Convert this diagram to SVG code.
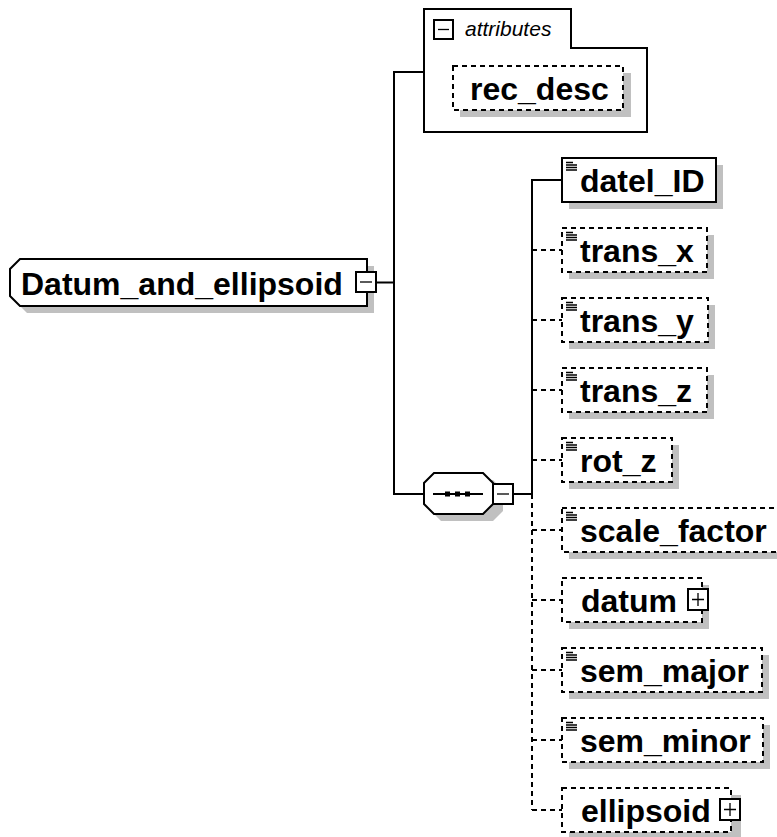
<svg xmlns="http://www.w3.org/2000/svg" width="777" height="837" viewBox="0 0 777 837">
<style>
.bg{fill:#fff}
.sh{fill:#c0c0c0}
.box{fill:#fff;stroke:#000;stroke-width:2}
.opt{fill:#fff;stroke:#000;stroke-width:2;stroke-dasharray:5,4}
.ln{fill:none;stroke:#000;stroke-width:2}
.dl{fill:none;stroke:#000;stroke-width:2;stroke-dasharray:5,4}
.btn{fill:#fff;stroke:#000;stroke-width:2}
.ic{fill:none;stroke:#000;stroke-width:1.3}
.t{font-family:"Liberation Sans",Arial,sans-serif;font-weight:bold;font-size:32px;fill:#000}
.it{font-family:"Liberation Sans",Arial,sans-serif;font-style:italic;font-size:21px;fill:#000}
</style>
<defs>
<path id="doc" d="M0 0.5h7M0 3h11M0 5.5h11M0 8h11" class="ic"/>
</defs>
<rect class="bg" x="0" y="0" width="777" height="837"/>
<g id="connectors">
<line class="ln" x1="376" y1="282.5" x2="394" y2="282.5"/>
<line class="ln" x1="394" y1="72" x2="394" y2="494"/>
<line class="ln" x1="393" y1="72" x2="424" y2="72"/>
<line class="ln" x1="393" y1="494" x2="424" y2="494"/>
<line class="ln" x1="513" y1="494" x2="532" y2="494"/>
<line class="ln" x1="532" y1="179" x2="532" y2="494"/>
<line class="dl" x1="532" y1="494" x2="532" y2="810"/>
<line class="ln" x1="531" y1="180" x2="562" y2="180"/>
<line class="dl" x1="532" y1="250" x2="562" y2="250"/>
<line class="dl" x1="532" y1="320" x2="562" y2="320"/>
<line class="dl" x1="532" y1="390" x2="562" y2="390"/>
<line class="dl" x1="532" y1="460" x2="562" y2="460"/>
<line class="dl" x1="532" y1="530" x2="562" y2="530"/>
<line class="dl" x1="532" y1="600" x2="562" y2="600"/>
<line class="dl" x1="532" y1="670" x2="562" y2="670"/>
<line class="dl" x1="532" y1="740" x2="562" y2="740"/>
<line class="dl" x1="532" y1="810" x2="562" y2="810"/>
</g>
<g id="root">
<path class="sh" d="M27 266H374V313H27L17 303V276Z"/>
<path class="box" d="M20 259H367V306H20L10 296V269Z"/>
<text class="t" x="21" y="295">Datum_and_ellipsoid</text>
<rect class="btn" x="356" y="272" width="20" height="20"/>
<line class="ic" x1="360" y1="282" x2="372" y2="282" stroke-width="2"/>
</g>
<g id="attributes">
<path class="box" d="M424 9H571V48H647V132H424Z"/>
<rect class="btn" x="434" y="20" width="19" height="19"/>
<line class="ic" x1="438" y1="29.5" x2="449" y2="29.5" stroke-width="2"/>
<text class="it" x="465" y="36">attributes</text>
</g>
<g id="rec_desc">
<rect class="sh" x="460" y="73" width="171" height="44"/>
<rect class="opt" x="453" y="66" width="170" height="44"/>
<text class="t" x="470" y="100">rec_desc</text>
</g>
<g id="sequence">
<path class="sh" d="M441 480H493L503 490V511L493 521H441L431 511V490Z"/>
<path class="box" d="M434 473H483L493 483V504L483 514H434L424 504V483Z"/>
<line class="ln" x1="433" y1="494" x2="483" y2="494"/>
<rect x="445" y="491.5" width="5" height="5" fill="#000"/>
<rect x="455" y="491.5" width="5" height="5" fill="#000"/>
<rect x="465" y="491.5" width="5" height="5" fill="#000"/>
<rect class="btn" x="493" y="484" width="20" height="20"/>
<line class="ic" x1="497" y1="494" x2="509" y2="494" stroke-width="2"/>
</g>
<g id="datel_ID">
<rect class="sh" x="569" y="165" width="154" height="44"/>
<rect class="box" x="562" y="158" width="154" height="44"/>
<use href="#doc" x="566" y="162"/>
<text class="t" x="580" y="192">datel_ID</text>
</g>
<g id="trans_x">
<rect class="sh" x="569" y="235" width="145" height="44"/>
<rect class="opt" x="562" y="228" width="145" height="44"/>
<use href="#doc" x="566" y="232"/>
<text class="t" x="580" y="262">trans_x</text>
</g>
<g id="trans_y">
<rect class="sh" x="569" y="305" width="146" height="44"/>
<rect class="opt" x="562" y="298" width="146" height="44"/>
<use href="#doc" x="566" y="302"/>
<text class="t" x="580" y="332">trans_y</text>
</g>
<g id="trans_z">
<rect class="sh" x="569" y="375" width="145" height="44"/>
<rect class="opt" x="562" y="368" width="145" height="44"/>
<use href="#doc" x="566" y="372"/>
<text class="t" x="580" y="402">trans_z</text>
</g>
<g id="rot_z">
<rect class="sh" x="569" y="445" width="110" height="44"/>
<rect class="opt" x="562" y="438" width="110" height="44"/>
<use href="#doc" x="566" y="442"/>
<text class="t" x="580" y="472">rot_z</text>
</g>
<g id="scale_factor">
<rect class="sh" x="569" y="515" width="220" height="44"/>
<rect class="opt" x="562" y="508" width="220" height="44"/>
<use href="#doc" x="566" y="512"/>
<text class="t" x="580" y="542">scale_factor</text>
</g>
<g id="datum">
<rect class="sh" x="569" y="585" width="140" height="44"/>
<rect class="opt" x="562" y="578" width="140" height="44"/>
<text class="t" x="581" y="612">datum</text>
<rect class="btn" x="688" y="589" width="20" height="21"/>
<path class="ic" d="M692 599.5H704M698 593V606" stroke-width="2"/>
</g>
<g id="sem_major">
<rect class="sh" x="569" y="655" width="200" height="44"/>
<rect class="opt" x="562" y="648" width="200" height="44"/>
<use href="#doc" x="566" y="652"/>
<text class="t" x="580" y="682">sem_major</text>
</g>
<g id="sem_minor">
<rect class="sh" x="569" y="725" width="201" height="44"/>
<rect class="opt" x="562" y="718" width="201" height="44"/>
<use href="#doc" x="566" y="722"/>
<text class="t" x="580" y="752">sem_minor</text>
</g>
<g id="ellipsoid">
<rect class="sh" x="569" y="795" width="172" height="44"/>
<rect class="opt" x="562" y="788" width="169" height="44"/>
<text class="t" x="581" y="822">ellipsoid</text>
<rect class="btn" x="720" y="799" width="20" height="21"/>
<path class="ic" d="M724 809.5H736M730 803V816" stroke-width="2"/>
</g>
</svg>
